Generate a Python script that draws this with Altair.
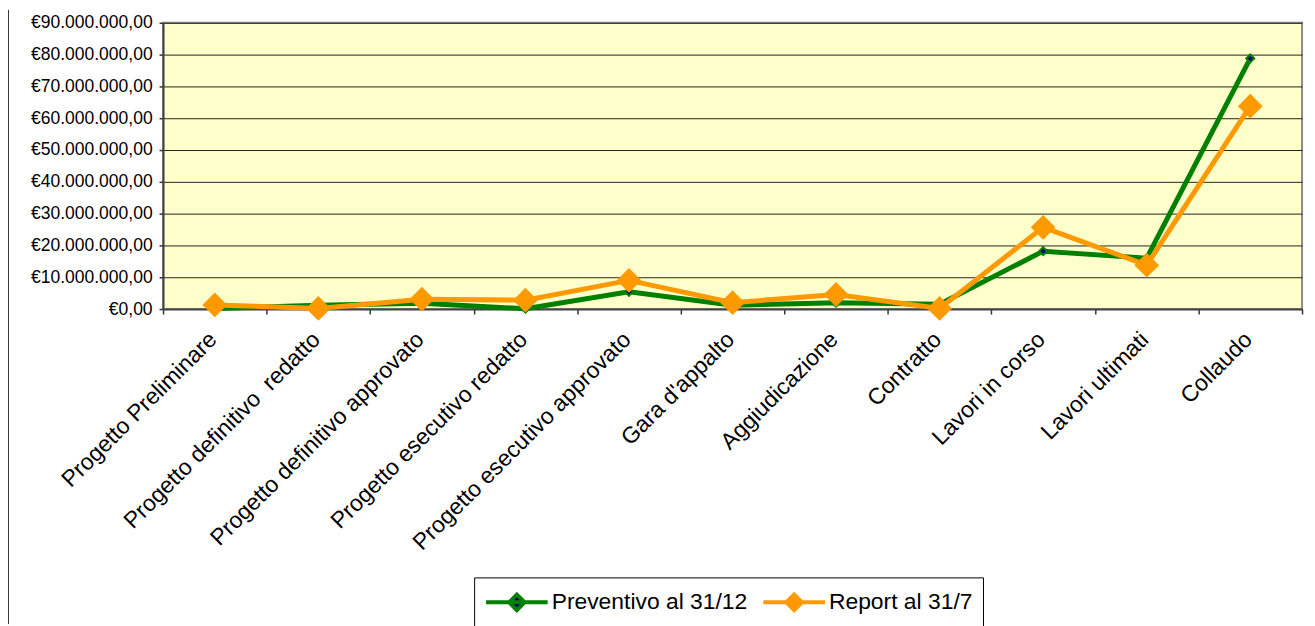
import altair as alt
import pandas as pd

categories = [
    "Progetto Preliminare",
    "Progetto definitivo  redatto",
    "Progetto definitivo approvato",
    "Progetto esecutivo redatto",
    "Progetto esecutivo approvato",
    "Gara d'appalto",
    "Aggiudicazione",
    "Contratto",
    "Lavori in corso",
    "Lavori ultimati",
    "Collaudo",
]
preventivo = [200000, 1200000, 1800000, 100000, 5400000, 1200000, 2000000, 1500000, 18200000, 16000000, 78800000]
report = [1300000, 200000, 3100000, 2800000, 9000000, 2000000, 4600000, 200000, 25700000, 13800000, 63800000]
series_names = ["Preventivo al 31/12", "Report al 31/7"]
y_ticks = [0, 10000000, 20000000, 30000000, 40000000, 50000000, 60000000, 70000000, 80000000, 90000000]

rows = []
for i, c in enumerate(categories):
    rows.append({"fase": c, "serie": series_names[0], "valore": preventivo[i]})
    rows.append({"fase": c, "serie": series_names[1], "valore": report[i]})
df = pd.DataFrame(rows)

FONT = "Liberation Sans"
# legend symbol: a line with a diamond in the middle (unit = 13 px)
legend_path = "M-1,0L3.77,0M1.385,-0.6L1.985,0L1.385,0.6L0.785,0Z"

leg = alt.Legend(
    title=None,
    orient="none",
    legendX=313,
    legendY=558,
    direction="horizontal",
    symbolType=legend_path,
    symbolSize=676,
    symbolStrokeWidth=4,
    labelFont=FONT,
    labelFontSize=23,
    labelColor="black",
    labelLimit=400,
    labelOffset=38,
    columnPadding=8,
    strokeColor="black",
    fillColor="white",
    padding=10,
)

stroke_scale = alt.Scale(domain=series_names, range=["#008000", "#FF9900"])
fill_scale = alt.Scale(domain=series_names, range=["#000080", "#FF9900"])

x_enc = alt.X(
    "fase:N",
    sort=categories,
    bandPosition=0.5,
    scale=alt.Scale(type="band", paddingInner=0, paddingOuter=0),
    axis=alt.Axis(
        title=None,
        labelAngle=-45,
        labelExpr="replace(datum.label, '  ', ' \u00a0')",
        labelFont=FONT,
        labelFontSize=23,
        labelColor="black",
        labelPadding=14,
        labelOffset=-10,
        tickBand="extent",
        tickSize=5,
        tickColor="#333",
        tickWidth=1.5,
        domainColor="#444",
        domainWidth=2,
        labelLimit=400,
    ),
)

y_enc = alt.Y(
    "valore:Q",
    scale=alt.Scale(domain=[0, 90000000], nice=False),
    axis=alt.Axis(
        title=None,
        values=y_ticks,
        labelExpr="'€' + replace(replace(replace(format(datum.value, ',.2f'), regexp(',', 'g'), '#'), '.', ','), regexp('#', 'g'), '.')",
        labelFont=FONT,
        labelFontSize=17.6,
        labelColor="black",
        labelPadding=7,
        tickSize=4,
        tickColor="#333",
        tickWidth=1.5,
        domainColor="#444",
        domainWidth=2,
        grid=True,
        gridColor="#222",
        gridWidth=1,
    ),
)

base = alt.Chart(df)

lines = base.mark_line(strokeWidth=5).encode(
    x=x_enc,
    y=y_enc,
    stroke=alt.Stroke("serie:N", scale=stroke_scale, legend=leg),
)

points_prev = base.transform_filter(
    alt.datum.serie == series_names[0]
).mark_point(shape="diamond", filled=True, strokeWidth=2, opacity=1, size=64).encode(
    x=x_enc,
    y=y_enc,
    stroke=alt.Stroke("serie:N", scale=stroke_scale, legend=leg),
    fill=alt.Fill("serie:N", scale=fill_scale, legend=leg),
)

points_rep = base.transform_filter(
    alt.datum.serie == series_names[1]
).mark_point(shape="diamond", filled=True, strokeWidth=2, opacity=1, size=484).encode(
    x=x_enc,
    y=y_enc,
    stroke=alt.Stroke("serie:N", scale=stroke_scale, legend=leg),
    fill=alt.Fill("serie:N", scale=fill_scale, legend=leg),
)

border = alt.Chart(pd.DataFrame({"a": [0]})).mark_rule(color="#333", strokeWidth=1).encode(
    x=alt.value(-155.5), y=alt.value(-13), y2=alt.value(605)
)

chart = (
    alt.layer(lines, points_prev, points_rep, border)
    .properties(
        width=1146,
        height=288,
        autosize=alt.AutoSizeParams(type="none"),
        padding={"left": 156, "top": 13, "right": 5, "bottom": 317},
        view=alt.ViewBackground(fill="#FFFFCC", stroke="#8C8C8C", strokeWidth=2),
    )
    .configure(font=FONT)
    .configure_view(fill="#FFFFCC", stroke="#8C8C8C", strokeWidth=2)
)

chart.save("out.html", embed_options={"renderer": "svg", "actions": False})
